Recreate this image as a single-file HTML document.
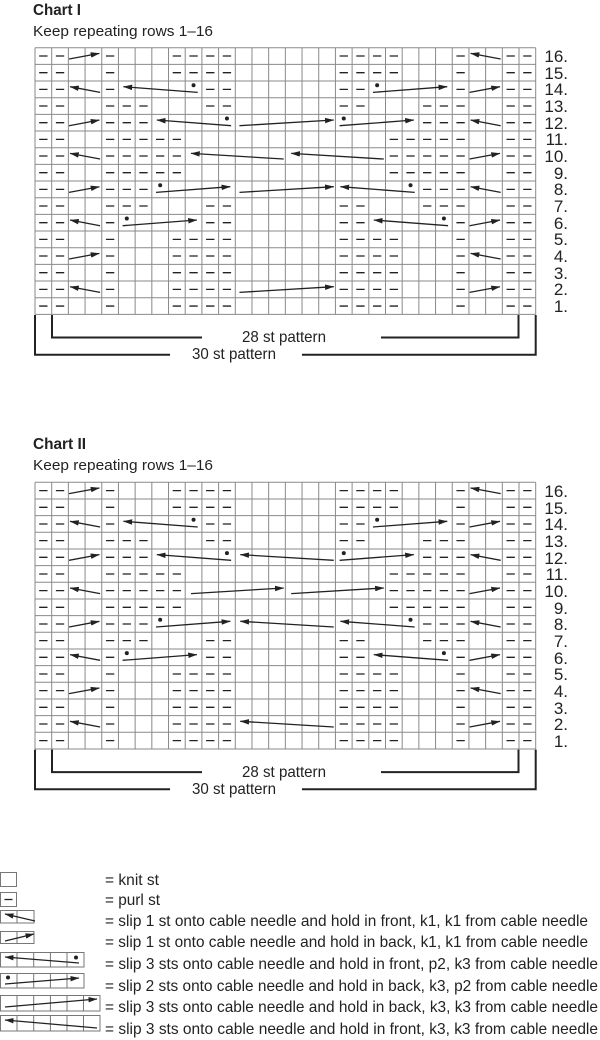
<!DOCTYPE html>
<html><head><meta charset="utf-8"><style>
html,body{margin:0;padding:0;background:#fff;}
svg{display:block;}
text{font-family:"Liberation Sans",Arial,sans-serif;fill:#222;}
</style></head><body>
<svg width="600" height="1040" viewBox="0 0 600 1040" xmlns="http://www.w3.org/2000/svg">
<defs>
<marker id="ah" markerUnits="userSpaceOnUse" markerWidth="0.55" markerHeight="0.34" viewBox="0 0 10 6" refX="9.5" refY="3" orient="auto"><path d="M0 0L10 3L0 6z" fill="#222"/></marker>
<marker id="ahp" markerUnits="userSpaceOnUse" markerWidth="9" markerHeight="6" viewBox="0 0 10 6" refX="9.5" refY="3" orient="auto"><path d="M0 0L10 3L0 6z" fill="#222"/></marker>
<g id="rA"><path d="M.25 .5h.5M1.25 .5h.5M4.25 .5h.5M8.25 .5h.5M9.25 .5h.5M10.25 .5h.5M11.25 .5h.5M18.25 .5h.5M19.25 .5h.5M20.25 .5h.5M21.25 .5h.5M25.25 .5h.5M28.25 .5h.5M29.25 .5h.5" stroke="#222" stroke-width="1.3" vector-effect="non-scaling-stroke" fill="none"/></g>
<g id="rB"><path d="M.25 .5h.5M1.25 .5h.5M4.25 .5h.5M10.25 .5h.5M11.25 .5h.5M18.25 .5h.5M19.25 .5h.5M25.25 .5h.5M28.25 .5h.5M29.25 .5h.5" stroke="#222" stroke-width="1.3" vector-effect="non-scaling-stroke" fill="none"/></g>
<g id="rC"><path d="M.25 .5h.5M1.25 .5h.5M4.25 .5h.5M5.25 .5h.5M6.25 .5h.5M10.25 .5h.5M11.25 .5h.5M18.25 .5h.5M19.25 .5h.5M23.25 .5h.5M24.25 .5h.5M25.25 .5h.5M28.25 .5h.5M29.25 .5h.5" stroke="#222" stroke-width="1.3" vector-effect="non-scaling-stroke" fill="none"/></g>
<g id="rD"><path d="M.25 .5h.5M1.25 .5h.5M4.25 .5h.5M5.25 .5h.5M6.25 .5h.5M23.25 .5h.5M24.25 .5h.5M25.25 .5h.5M28.25 .5h.5M29.25 .5h.5" stroke="#222" stroke-width="1.3" vector-effect="non-scaling-stroke" fill="none"/></g>
<g id="rE"><path d="M.25 .5h.5M1.25 .5h.5M4.25 .5h.5M5.25 .5h.5M6.25 .5h.5M7.25 .5h.5M8.25 .5h.5M21.25 .5h.5M22.25 .5h.5M23.25 .5h.5M24.25 .5h.5M25.25 .5h.5M28.25 .5h.5M29.25 .5h.5" stroke="#222" stroke-width="1.3" vector-effect="non-scaling-stroke" fill="none"/></g>
<g id="common">
<path d="M0 0V16M1 0V16M2 0V16M3 0V16M4 0V16M5 0V16M6 0V16M7 0V16M8 0V16M9 0V16M10 0V16M11 0V16M12 0V16M13 0V16M14 0V16M15 0V16M16 0V16M17 0V16M18 0V16M19 0V16M20 0V16M21 0V16M22 0V16M23 0V16M24 0V16M25 0V16M26 0V16M27 0V16M28 0V16M29 0V16M30 0V16M0 0H30M0 1H30M0 2H30M0 3H30M0 4H30M0 5H30M0 6H30M0 7H30M0 8H30M0 9H30M0 10H30M0 11H30M0 12H30M0 13H30M0 14H30M0 15H30M0 16H30" stroke="#8a8a8a" stroke-width="1" vector-effect="non-scaling-stroke" fill="none"/>
<use href="#rA" y="0"/><use href="#rA" y="1"/><use href="#rB" y="2"/><use href="#rC" y="3"/><use href="#rD" y="4"/><use href="#rE" y="5"/><use href="#rE" y="6"/><use href="#rE" y="7"/><use href="#rD" y="8"/><use href="#rC" y="9"/><use href="#rB" y="10"/><use href="#rA" y="11"/><use href="#rA" y="12"/><use href="#rA" y="13"/><use href="#rA" y="14"/><use href="#rA" y="15"/>
<g stroke="#222" stroke-width="1.3" fill="none" marker-end="url(#ah)">
<path d="M2.04 .68L3.86 .34" vector-effect="non-scaling-stroke"/><path d="M27.9 .68L26.1 .34" vector-effect="non-scaling-stroke"/>
<path d="M3.9 2.68L2.1 2.34" vector-effect="non-scaling-stroke"/><path d="M26.04 2.68L27.86 2.34" vector-effect="non-scaling-stroke"/>
<path d="M2.04 4.68L3.86 4.34" vector-effect="non-scaling-stroke"/><path d="M27.9 4.68L26.1 4.34" vector-effect="non-scaling-stroke"/>
<path d="M3.9 6.68L2.1 6.34" vector-effect="non-scaling-stroke"/><path d="M26.04 6.68L27.86 6.34" vector-effect="non-scaling-stroke"/>
<path d="M2.04 8.68L3.86 8.34" vector-effect="non-scaling-stroke"/><path d="M27.9 8.68L26.1 8.34" vector-effect="non-scaling-stroke"/>
<path d="M3.9 10.68L2.1 10.34" vector-effect="non-scaling-stroke"/><path d="M26.04 10.68L27.86 10.34" vector-effect="non-scaling-stroke"/>
<path d="M2.04 12.68L3.86 12.34" vector-effect="non-scaling-stroke"/><path d="M27.9 12.68L26.1 12.34" vector-effect="non-scaling-stroke"/>
<path d="M3.9 14.68L2.1 14.34" vector-effect="non-scaling-stroke"/><path d="M26.04 14.68L27.86 14.34" vector-effect="non-scaling-stroke"/>
<path d="M9.75 2.68L5.3 2.34" vector-effect="non-scaling-stroke"/><path d="M20.25 2.68L24.7 2.34" vector-effect="non-scaling-stroke"/>
<path d="M11.75 4.68L7.3 4.34" vector-effect="non-scaling-stroke"/><path d="M18.25 4.68L22.7 4.34" vector-effect="non-scaling-stroke"/>
<path d="M7.25 8.68L11.7 8.34" vector-effect="non-scaling-stroke"/><path d="M22.75 8.68L18.3 8.34" vector-effect="non-scaling-stroke"/>
<path d="M5.25 10.68L9.7 10.34" vector-effect="non-scaling-stroke"/><path d="M24.75 10.68L20.3 10.34" vector-effect="non-scaling-stroke"/>
</g>
<g fill="#222">
<circle cx="9.5" cy="2.25" r=".12"/><circle cx="20.5" cy="2.25" r=".12"/>
<circle cx="11.5" cy="4.25" r=".12"/><circle cx="18.5" cy="4.25" r=".12"/>
<circle cx="7.5" cy="8.25" r=".12"/><circle cx="22.5" cy="8.25" r=".12"/>
<circle cx="5.5" cy="10.25" r=".12"/><circle cx="24.5" cy="10.25" r=".12"/>
</g>
</g>
</defs>

<!-- Chart I -->
<text x="33" y="15" font-size="16" font-weight="bold" textLength="48" lengthAdjust="spacingAndGlyphs">Chart I</text>
<text x="33" y="36" font-size="15" textLength="180" lengthAdjust="spacingAndGlyphs">Keep repeating rows 1–16</text>
<g transform="translate(35 47.7) scale(16.69 16.667)">
<use href="#common"/>
<g stroke="#222" stroke-width="1.3" fill="none" marker-end="url(#ah)">
<path d="M12.25 4.68L17.9 4.34" vector-effect="non-scaling-stroke"/>
<path d="M14.9 6.68L9.35 6.34" vector-effect="non-scaling-stroke"/>
<path d="M20.9 6.68L15.35 6.34" vector-effect="non-scaling-stroke"/>
<path d="M12.25 8.68L17.9 8.34" vector-effect="non-scaling-stroke"/>
<path d="M12.25 14.68L17.9 14.34" vector-effect="non-scaling-stroke"/>
</g>
</g>
<g font-size="17" text-anchor="end">
<text x="568" y="62">16.</text><text x="568" y="79">15.</text><text x="568" y="95">14.</text><text x="568" y="112">13.</text><text x="568" y="129">12.</text><text x="568" y="145">11.</text><text x="568" y="162">10.</text><text x="568" y="179">9.</text><text x="568" y="195">8.</text><text x="568" y="212">7.</text><text x="568" y="229">6.</text><text x="568" y="245">5.</text><text x="568" y="262">4.</text><text x="568" y="279">3.</text><text x="568" y="295">2.</text><text x="568" y="312">1.</text>
</g>
<g stroke="#222" stroke-width="2" fill="none">
<path d="M52 315V337.5H202M381 337.5H518.5V315"/>
<path d="M35 315V354.7H170M302 354.7H535.7V315"/>
</g>
<text x="242" y="342" font-size="16" textLength="84" lengthAdjust="spacingAndGlyphs">28 st pattern</text>
<text x="192" y="359" font-size="16" textLength="84" lengthAdjust="spacingAndGlyphs">30 st pattern</text>

<!-- Chart II -->
<text x="33" y="449" font-size="16" font-weight="bold" textLength="53" lengthAdjust="spacingAndGlyphs">Chart II</text>
<text x="33" y="470" font-size="15" textLength="180" lengthAdjust="spacingAndGlyphs">Keep repeating rows 1–16</text>
<g transform="translate(35 482.3) scale(16.69 16.667)">
<use href="#common"/>
<g stroke="#222" stroke-width="1.3" fill="none" marker-end="url(#ah)">
<path d="M17.9 4.68L12.3 4.34" vector-effect="non-scaling-stroke"/>
<path d="M9.35 6.68L14.9 6.34" vector-effect="non-scaling-stroke"/>
<path d="M15.35 6.68L20.9 6.34" vector-effect="non-scaling-stroke"/>
<path d="M17.9 8.68L12.3 8.34" vector-effect="non-scaling-stroke"/>
<path d="M17.9 14.68L12.3 14.34" vector-effect="non-scaling-stroke"/>
</g>
</g>
<g font-size="17" text-anchor="end">
<text x="568" y="497">16.</text><text x="568" y="514">15.</text><text x="568" y="530">14.</text><text x="568" y="547">13.</text><text x="568" y="564">12.</text><text x="568" y="580">11.</text><text x="568" y="597">10.</text><text x="568" y="614">9.</text><text x="568" y="630">8.</text><text x="568" y="647">7.</text><text x="568" y="664">6.</text><text x="568" y="680">5.</text><text x="568" y="697">4.</text><text x="568" y="714">3.</text><text x="568" y="730">2.</text><text x="568" y="747">1.</text>
</g>
<g stroke="#222" stroke-width="2" fill="none">
<path d="M52 749.6V772.1H202M381 772.1H518.5V749.6"/>
<path d="M35 749.6V789.3H170M302 789.3H535.7V749.6"/>
</g>
<text x="242" y="777" font-size="16" textLength="84" lengthAdjust="spacingAndGlyphs">28 st pattern</text>
<text x="192" y="794" font-size="16" textLength="84" lengthAdjust="spacingAndGlyphs">30 st pattern</text>

<!-- Legend -->
<g stroke="#777" stroke-width="1" fill="none">
<rect x="0.5" y="872.5" width="16" height="14"/>
<rect x="0.5" y="892.5" width="16" height="14"/>
<rect x="0.5" y="910.5" width="33.5" height="12.5"/><path d="M17 910.5V923"/>
<rect x="0.5" y="931.5" width="33.5" height="12"/><path d="M17 931.5V943.5"/>
<rect x="0.5" y="952.5" width="83.5" height="14.5"/><path d="M17 952.5V967M33.7 952.5V967M50.4 952.5V967M67 952.5V967"/>
<rect x="0.5" y="973.5" width="83.5" height="14.5"/><path d="M17 973.5V988M33.7 973.5V988M50.4 973.5V988M67 973.5V988"/>
<rect x="0.5" y="995.5" width="99.5" height="15.5"/><path d="M17 995.5V1011M33.7 995.5V1011M50.4 995.5V1011M67 995.5V1011M83.5 995.5V1011"/>
<rect x="0.5" y="1015.5" width="99.5" height="15.5"/><path d="M17 1015.5V1031M33.7 1015.5V1031M50.4 1015.5V1031M67 1015.5V1031M83.5 1015.5V1031"/>
</g>
<path d="M4.5 899.5h8" stroke="#222" stroke-width="1.3"/>
<g stroke="#222" stroke-width="1.3" fill="none" marker-end="url(#ahp)">
<path d="M35 921L5 914"/>
<path d="M5 941L34 934"/>
<path d="M79 963L5 957"/>
<path d="M5 984L79 978"/>
<path d="M5 1007L97 999"/>
<path d="M97 1028L5 1020"/>
</g>
<circle cx="76" cy="957.5" r="2" fill="#222"/>
<circle cx="8" cy="977.5" r="2" fill="#222"/>
<g font-size="16">
<text x="105" y="885" textLength="54" lengthAdjust="spacingAndGlyphs">= knit st</text>
<text x="105" y="905" textLength="55" lengthAdjust="spacingAndGlyphs">= purl st</text>
<text x="105" y="926" textLength="483" lengthAdjust="spacingAndGlyphs">= slip 1 st onto cable needle and hold in front, k1, k1 from cable needle</text>
<text x="105" y="947" textLength="483" lengthAdjust="spacingAndGlyphs">= slip 1 st onto cable needle and hold in back, k1, k1 from cable needle</text>
<text x="105" y="969" textLength="493" lengthAdjust="spacingAndGlyphs">= slip 3 sts onto cable needle and hold in front, p2, k3 from cable needle</text>
<text x="105" y="991" textLength="493" lengthAdjust="spacingAndGlyphs">= slip 2 sts onto cable needle and hold in back, k3, p2 from cable needle</text>
<text x="105" y="1012" textLength="493" lengthAdjust="spacingAndGlyphs">= slip 3 sts onto cable needle and hold in back, k3, k3 from cable needle</text>
<text x="105" y="1034" textLength="493" lengthAdjust="spacingAndGlyphs">= slip 3 sts onto cable needle and hold in front, k3, k3 from cable needle</text>
</g>
</svg>
</body></html>
